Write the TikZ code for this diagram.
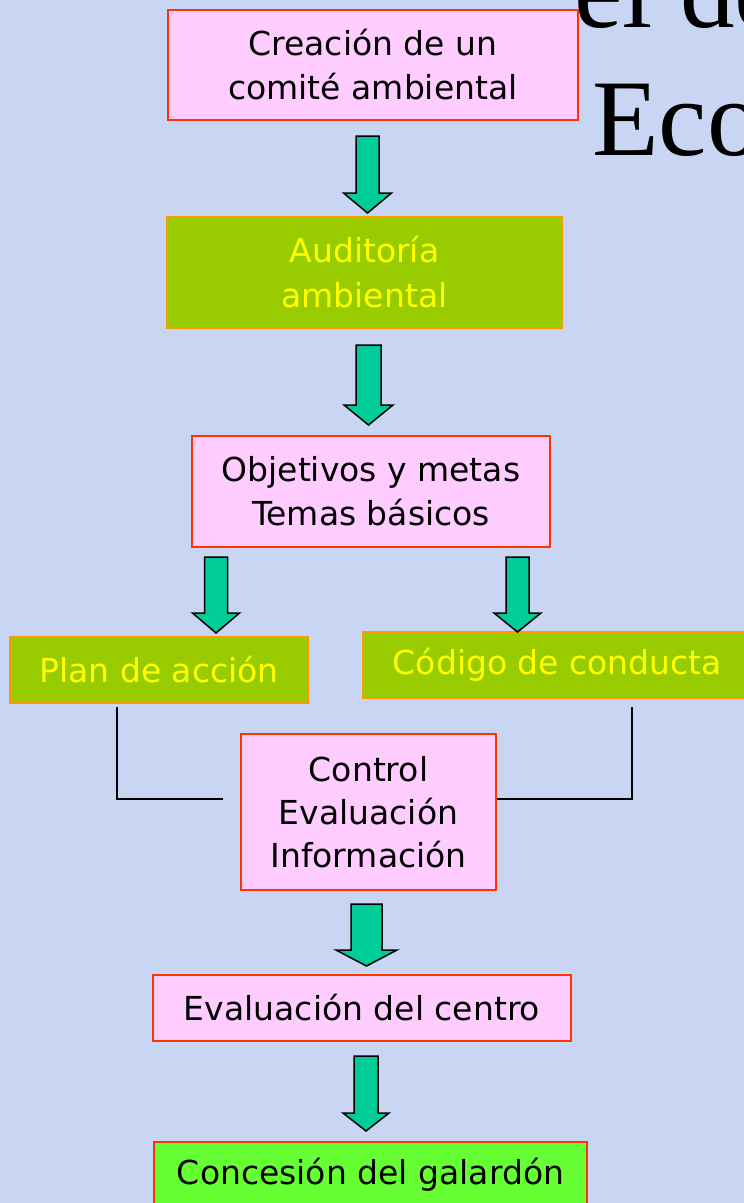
\documentclass[tikz,border=0pt]{standalone}
\usepackage{fontspec}
\setmainfont{DejaVu Sans}
\newfontfamily\titulo{Liberation Serif}
\usepackage{tikz}

\definecolor{fondo}{RGB}{200,214,244}
\definecolor{rosa}{RGB}{255,204,255}
\definecolor{rojo}{RGB}{255,51,0}
\definecolor{oliva}{RGB}{153,204,0}
\definecolor{naranja}{RGB}{255,153,0}
\definecolor{amarillo}{RGB}{255,255,0}
\definecolor{verdeclaro}{RGB}{102,255,51}
\definecolor{verdeflecha}{RGB}{0,204,153}

\tikzset{
  caja/.style={line width=2pt, inner sep=0pt, align=center,
    font=\fontsize{33}{44}\selectfont},
  cajarosa/.style={caja, draw=rojo, fill=rosa},
  cajaverde/.style={caja, draw=naranja, fill=oliva, text=amarillo},
  cajafinal/.style={caja, draw=rojo, fill=verdeclaro},
  flecha/.style={draw=black, line width=1.5pt, fill=verdeflecha, line join=miter},
  linea/.style={draw=black, line width=2pt}
}

% x, arriba, base de la punta, punta, medio ancho del tallo, medio ancho de la punta
\newcommand{\flecha}[6]{%
  \draw[flecha] (#1-#5,#2) -- (#1+#5,#2) -- (#1+#5,#3) -- (#1+#6,#3)
    -- (#1,#4) -- (#1-#6,#3) -- (#1-#5,#3) -- cycle;}

\begin{document}
\begin{tikzpicture}[x=1pt,y=-1pt]
    \useasboundingbox (0,0) rectangle (744,1203);
    \clip (0,0) rectangle (744,1203);
    \fill[fondo] (0,0) rectangle (744,1203);

    % titulo (cortado)
    \node[anchor=base west, inner sep=0pt, font=\titulo\fontsize{109}{130}\selectfont] (tit1) at (574,27) {el de};
    \node[anchor=base west, inner sep=0pt, font=\titulo\fontsize{109}{130}\selectfont] (tit2) at (592,155) {Eco};

    % cajas
    \node[cajarosa, minimum width=410, minimum height=110] (comite) at (373,65) {Creación de un\\comité ambiental};
    \node[cajaverde, minimum width=395, minimum height=111, font=\fontsize{33}{45}\selectfont] (auditoria) at (364.5,272.5) {Auditoría\\ambiental};
    \node[cajarosa, minimum width=358, minimum height=111] (objetivos) at (371,491.5) {Objetivos y metas\\Temas básicos};
    \node[cajaverde, minimum width=298, minimum height=66] (plan) at (159,670) {Plan de acción};
    \node[cajaverde, minimum width=389, minimum height=66] (codigo) at (557.5,665) {Código de conducta};
    \node[cajarosa, minimum width=255, minimum height=156, font=\fontsize{33}{43}\selectfont] (control) at (368.5,812) {Control\\Evaluación\\Información};
    \node[cajarosa, minimum width=418, minimum height=66] (centro) at (362,1008) {Evaluación del centro};
    \node[cajafinal, minimum width=433, minimum height=66] (galardon) at (370.5,1175) {Concesión del galardón};

    % flechas
    \flecha{367.5}{136}{193}{213}{11.5}{24}
    \flecha{368.5}{345}{405}{425}{12.5}{24.5}
    \flecha{216}{557}{613}{633}{11.5}{23.5}
    \flecha{517.5}{557}{613}{632}{11.5}{23.5}
    \flecha{366.5}{904}{950}{966}{15.5}{30.5}
    \flecha{366}{1056}{1113}{1131}{12}{23}

    % lineas hacia el control
    \coordinate (izqA) at (117,707);
    \coordinate (izqB) at (223,799);
    \coordinate (derA) at (632,707);
    \draw[linea] (izqA) |- (izqB);
    \draw[linea] (derA) |- ([yshift=13]control.east);
\end{tikzpicture}
\end{document}
